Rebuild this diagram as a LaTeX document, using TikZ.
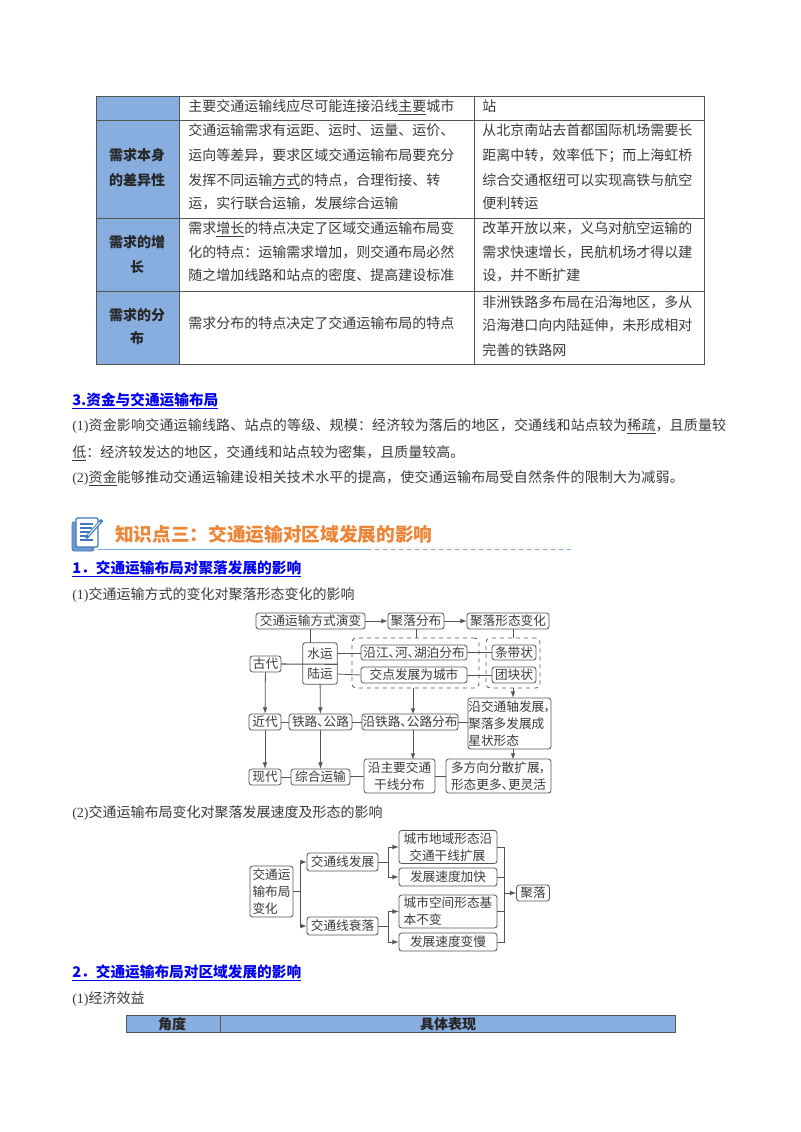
\documentclass[tikz,border=0pt]{standalone}
\usepackage{fontspec}
\setmainfont{Noto Sans CJK SC}
\newfontfamily\latfont{Liberation Serif}
\newfontfamily\flowfont[RawFeature={+palt}]{Noto Sans CJK SC}
\newfontfamily\widefont[LetterSpace=1.3]{Noto Sans CJK SC}
\usetikzlibrary{arrows}
\definecolor{txtgray}{HTML}{3A3A3A}
\definecolor{linegray}{HTML}{555555}
\definecolor{headblue}{HTML}{88AEDF}
\definecolor{linkblue}{HTML}{0000F0}
\definecolor{titleorange}{HTML}{EE8435}
\definecolor{ruleblue}{HTML}{7FA6E6}
\definecolor{iconblue}{HTML}{3F78BE}
\newcommand{\num}[1]{{\latfont #1}}
\tikzset{
	txt/.style={anchor=base west,inner sep=0pt,text=txtgray,font=\fontsize{10.5}{12}\selectfont},
	cellhead/.style={inner sep=0pt,text=black!85,font=\fontsize{10.5}{12}\selectfont\bfseries},
	sechead/.style={anchor=base west,inner sep=0pt,text=linkblue,font=\fontsize{11}{12}\selectfont\bfseries},
	bsize/.style 2 args={minimum width=#1*0.75pt,minimum height=#2*0.75pt},
	flowtxt/.style={inner sep=0pt,text=txtgray,align=center,font=\fontsize{9.5}{12.75}\selectfont\flowfont},
	flowbox/.style={flowtxt,draw=linegray,line width=0.6pt,rounded corners=2pt},
	dashbox/.style={draw=linegray,line width=0.6pt,dashed,rounded corners=3pt,inner sep=0pt},
	conn/.style={draw=linegray,line width=0.6pt},
	arr/.style={conn,-latex},
	tabline/.style={draw=linegray,line width=0.6pt},
}
\begin{document}
\begin{tikzpicture}[x=0.75pt,y=-0.75pt]
\useasboundingbox (0,0) rectangle (800,1132);
\fill[white] (0,0) rectangle (800,1132);

% top table
\fill[headblue] (96,96) rectangle (179,364);
\draw[tabline] (96,96) rectangle (704,364);
\draw[tabline] (96,120.5) -- (704,120.5);
\draw[tabline] (96,218) -- (704,218);
\draw[tabline] (96,291) -- (704,291);
\draw[tabline] (179,96) -- (179,364);
\draw[tabline] (474,96) -- (474,364);

\draw (188,111)node[txt](rowa){主要交通运输线应尽可能连接沿线\underline{主要}城市};
\draw (482,111)node[txt](rowb){站};

\draw (137,155)node[cellhead](heada){需求本身};
\draw (137,180)node[cellhead](headb){的差异性};
\draw (188,135)node[txt](midaa){交通运输需求有运距、运时、运量、运价、};
\draw (188,160)node[txt](midab){运向等差异，要求区域交通运输布局要充分};
\draw (188,185)node[txt](midac){发挥不同运输\underline{方式}的特点，合理衔接、转};
\draw (188,208)node[txt](midad){运，实行联合运输，发展综合运输};
\draw (482,135)node[txt](rgtaa){从北京南站去首都国际机场需要长};
\draw (482,160)node[txt](rgtab){距离中转，效率低下；而上海虹桥};
\draw (482,185)node[txt](rgtac){综合交通枢纽可以实现高铁与航空};
\draw (482,208)node[txt](rgtad){便利转运};

\draw (137,242)node[cellhead](headc){需求的增};
\draw (137,267)node[cellhead](headd){长};
\draw (188,233)node[txt](midba){需求\underline{增长}的特点决定了区域交通运输布局变};
\draw (188,257)node[txt](midbb){化的特点：运输需求增加，则交通布局必然};
\draw (188,280)node[txt](midbc){随之增加线路和站点的密度、提高建设标准};
\draw (482,233)node[txt](rgtba){改革开放以来，义乌对航空运输的};
\draw (482,257)node[txt](rgtbb){需求快速增长，民航机场才得以建};
\draw (482,280)node[txt](rgtbc){设，并不断扩建};

\draw (137,315)node[cellhead](heade){需求的分};
\draw (137,338)node[cellhead](headf){布};
\draw (188,328)node[txt](midca){需求分布的特点决定了交通运输布局的特点};
\draw (482,307)node[txt](rgtca){非洲铁路多布局在沿海地区，多从};
\draw (482,330)node[txt](rgtcb){沿海港口向内陆延伸，未形成相对};
\draw (482,355)node[txt](rgtcc){完善的铁路网};

% text block
\draw (72,405)node[sechead](secc){\underline{3.资金与交通运输布局}};
\draw (72,430)node[txt](para){\num{(1)}\widefont 资金影响交通运输线路、站点的等级、规模：经济较为落后的地区，交通线和站点较为\underline{稀疏}，且质量较};
\draw (72,457)node[txt](parb){\underline{低}：经济较发达的地区，交通线和站点较为密集，且质量较高。};
\draw (72,482)node[txt](parc){\num{(2)}\widefont\underline{资金}能够推动交通运输建设相关技术水平的提高，使交通运输布局受自然条件的限制大为减弱。};

% title with icon
\draw[iconblue,fill=iconblue!75,line width=0.6pt,rounded corners=1.5pt] (72,522) rectangle (94,551);
\draw[iconblue,fill=white,line width=0.9pt,rounded corners=1pt] (76,518) rectangle (98,547);
\draw[iconblue,line width=0.8pt] (80,524) -- (93,524);
\draw[iconblue,line width=0.8pt] (80,528) -- (92,528);
\draw[iconblue,line width=0.8pt] (80,532) -- (90,532);
\draw[iconblue,line width=0.8pt] (80,536) -- (88,536);
\draw[iconblue,line width=0.8pt] (80,540) -- (93,540);
\draw[iconblue,line width=2.4pt] (86,538) -- (102,520);
\draw[white,line width=0.7pt] (88,535.5) -- (100,522);
\draw (115,541)node[anchor=base west,inner sep=0pt,text=titleorange,font=\fontsize{14}{16}\selectfont\bfseries](title){知识点三：交通运输对区域发展的影响};
\draw[ruleblue,line width=0.7pt] (98,549.5) -- (367,549.5);
\draw[ruleblue,line width=0.7pt,dashed] (367,549.5) -- (572,549.5);

\draw (72,573)node[sechead](seca){\underline{1．交通运输布局对聚落发展的影响}};
\draw (72,599)node[txt](para1){\num{(1)}交通运输方式的变化对聚落形态变化的影响};

% first flow chart
\draw (310.5,621)node[flowbox,bsize={109}{16}](yanbian){交通运输方式演变};
\draw (416,621)node[flowbox,bsize={56}{16}](fenbu){聚落分布};
\draw (508,621)node[flowbox,bsize={82}{16}](xingtai){聚落形态变化};
\draw (265.5,664)node[flowbox,bsize={31}{16}](gudai){古代};
\draw (320,653.5)node[flowtxt,bsize={34}{21}](shuiyun){水运};
\draw (320,674)node[flowtxt,bsize={34}{20}](luyun){陆运};
\draw[conn,rounded corners=2pt] (shuiyun.north west) rectangle (luyun.south east);
\draw (415.5,663)node[dashbox,bsize={127}{50}](dasha){};
\draw (513,663)node[dashbox,bsize={54}{50}](dashb){};
\draw (414,652.5)node[flowbox,bsize={106}{15}](yanjiang){沿江、河、湖泊分布};
\draw (414,675)node[flowbox,bsize={106}{16}](jiaodian){交点发展为城市};
\draw (514,652.5)node[flowbox,bsize={44}{15}](tiaodai){条带状};
\draw (514,675)node[flowbox,bsize={44}{16}](tuankuai){团块状};
\draw (265,722)node[flowbox,bsize={32}{16}](jindai){近代};
\draw (320.5,722)node[flowbox,bsize={63}{16}](tielu){铁路、公路};
\draw (410,722)node[flowbox,bsize={96}{16}](yantie){沿铁路、公路分布};
\draw (509.5,723.5)node[flowbox,bsize={83}{51},align=left](zhoufa){沿交通轴发展，\\聚落多发展成\\星状形态};
\draw (265,777)node[flowbox,bsize={32}{16}](xiandai){现代};
\draw (320.5,777)node[flowbox,bsize={59}{16}](zonghe){综合运输};
\draw (399.5,776)node[flowbox,bsize={71}{34}](yanzhu){沿主要交通\\干线分布};
\draw (498.5,776)node[flowbox,bsize={105}{34}](duofang){多方向分散扩展，\\形态更多、更灵活};

\draw[arr] (yanbian) -- (fenbu);
\draw[arr] (fenbu) -- (xingtai);
\draw[conn] (yanbian.south) -- (yanbian.south |- shuiyun.north);
\draw[conn] (fenbu.south) -- (fenbu.south |- dasha.north);
\draw[conn] (xingtai.south -| dashb.north) -- (dashb.north);
\draw[conn,line width=0.8pt] (gudai.east) -- (shuiyun.south east);
\draw[conn] (shuiyun.east) -- (yanjiang.west |- shuiyun.east);
\draw[conn] (luyun.east) -- (jiaodian.west);
\draw[conn,line width=0.9pt] (yanjiang) -- (tiaodai);
\draw[conn] (jiaodian) -- (tuankuai);
\draw[arr] (gudai) -- (jindai);
\draw[arr] (jindai) -- (xiandai);
\draw[arr] (luyun) -- (tielu);
\draw[arr] (tielu) -- (zonghe);
\draw[arr] (dasha.south -| yantie.north) ++(3,0) -- ++(0,26);
\draw[arr] (yantie.south) ++(3,0) -- ++(0,29);
\draw[arr] (dashb) -- (dashb |- zhoufa.north);
\draw[arr] (zhoufa.south) ++(3.5,0) -- ++(0,10);
\draw[conn] (jindai) -- (tielu);
\draw[conn] (tielu) -- (yantie);
\draw[conn] (yantie.east) -- (yantie.east -| zhoufa.west);
\draw[conn] (xiandai) -- (zonghe);
\draw[conn] (zonghe) -- (yanzhu);
\draw[conn] (yanzhu) -- (duofang);

\draw (72,817)node[txt](para2){\num{(2)}交通运输布局变化对聚落发展速度及形态的影响};

% second flow chart
\draw (271.5,891.5)node[flowbox,bsize={43}{51},align=left](bianhua){交通运\\输布局\\变化};
\draw (342.5,862)node[flowbox,bsize={71}{18}](fazhan){交通线发展};
\draw (342.5,926)node[flowbox,bsize={71}{18}](shuailuo){交通线衰落};
\draw (448,847)node[flowbox,bsize={98}{33},align=left](dixing){城市地域形态沿\\\ \ 交通干线扩展};
\draw (448,877)node[flowbox,bsize={98}{18}](jiakuai){发展速度加快};
\draw (448,911.5)node[flowbox,bsize={98}{33},align=left](kongjian){城市空间形态基\\本不变};
\draw (448,942)node[flowbox,bsize={98}{18}](bianman){发展速度变慢};
\draw (533,893)node[flowbox,bsize={33}{16}](juluo){聚落};
\coordinate (hub) at (504.5,893);

\draw[arr] (bianhua.east) -- ++(7,0) |- (fazhan.west);
\draw[arr] (bianhua.east) -- ++(7,0) |- (shuailuo.west);
\draw[arr] (fazhan.east) -- ++(10,0) |- (dixing.west);
\draw[arr] (fazhan.east) -- ++(10,0) |- (jiakuai.west);
\draw[arr] (shuailuo.east) -- ++(10,0) |- (kongjian.west);
\draw[arr] (shuailuo.east) -- ++(10,0) |- (bianman.west);
\draw[conn] (dixing.east) -| (hub);
\draw[conn] (jiakuai.east) -| (hub);
\draw[conn] (kongjian.east) -| (hub);
\draw[conn] (bianman.east) -| (hub);
\draw[arr] (hub) -- (juluo.west);

\draw (72,977)node[sechead](secb){\underline{2．交通运输布局对区域发展的影响}};
\draw (72,1003)node[txt](para3){\num{(1)}经济效益};

% bottom table head
\fill[headblue] (126,1015) rectangle (675,1032);
\draw[tabline] (126,1015) rectangle (675,1032);
\draw[tabline] (220,1015) -- (220,1032);
\draw (172,1024)node[cellhead](jiaodu){角度};
\draw (448,1024)node[cellhead](biaoxian){具体表现};
\end{tikzpicture}
\end{document}
